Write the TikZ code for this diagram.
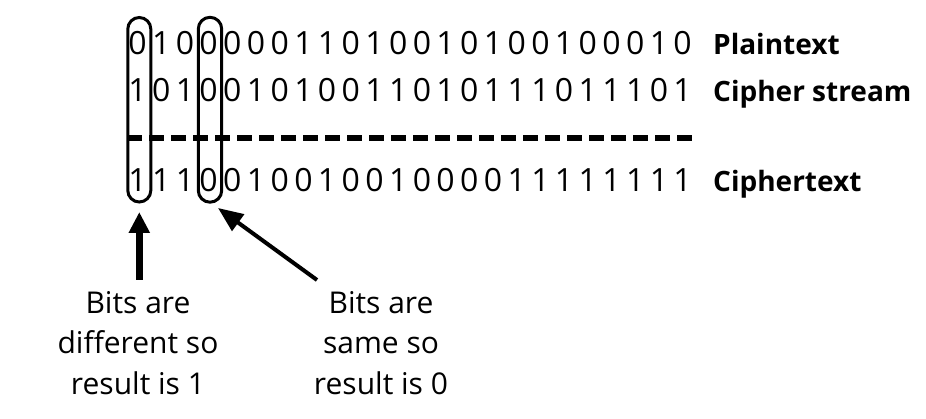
\documentclass[tikz,border=0pt]{standalone}
\usepackage{fontspec}
\setmainfont{Open Sans}
\usetikzlibrary{arrows.meta}
\tikzset{
  bit/.style={anchor=base, inner sep=0pt, font=\fontsize{32}{38}\selectfont},
  lbl/.style={anchor=base west, inner sep=0pt, font=\fontsize{28}{34}\selectfont\bfseries},
  loopline/.style={draw, line width=3pt},
  note/.style={align=center, inner sep=0pt, font=\fontsize{30}{40.5}\selectfont},
  sepline/.style={line width=6pt, dash pattern=on 15pt off 7pt},
  bigarrow/.style={line width=6.5pt, -{Triangle[length=21pt,width=20pt]}},
  thinarrow/.style={line width=4pt, -{Triangle[length=25pt,width=20pt]}},
}
\begin{document}
\begin{tikzpicture}[x=1pt,y=-1pt]
\useasboundingbox (0,0) rectangle (926,419);
% bit rows
\foreach \d [count=\i] in {0,1,0,0,0,0,0,1,1,0,1,0,0,1,0,1,0,0,1,0,0,0,1,0}
  \node[bit] (p\i) at ({137.5+(\i-1)*23.7},55) {\d};
\foreach \d [count=\i] in {1,0,1,0,0,1,0,1,0,0,1,1,0,1,0,1,1,1,0,1,1,1,0,1}
  \node[bit] (s\i) at ({137.5+(\i-1)*23.7},102) {\d};
\foreach \d [count=\i] in {1,1,1,0,0,1,0,0,1,0,0,1,0,0,0,0,1,1,1,1,1,1,1,1}
  \node[bit] (c\i) at ({137.5+(\i-1)*23.7},192) {\d};
% row labels
\node[lbl] (lp) at (713,55) {Plaintext};
\node[lbl] (ls) at (713,102) {Cipher stream};
\node[lbl] (lc) at (713,192) {Ciphertext};
% dashed separator
\coordinate (d1) at (127,138);
\coordinate (d2) at (697,138);
\draw[sepline] (d1) -- (d2);
% loops around the compared columns
\draw[loopline] (127.8,29) -- (127.8,190.5) arc[start angle=180, end angle=0, radius=11.5]
  -- (150.8,29) arc[start angle=0, end angle=-180, radius=11.5] -- cycle;
\draw[loopline] (198.3,29) -- (198.3,190.5) arc[start angle=180, end angle=0, radius=11.7]
  -- (221.7,29) arc[start angle=0, end angle=-180, radius=11.7] -- cycle;
\coordinate (loopAbot) at (139.3,212);
\coordinate (loopBbot) at (218,208);
% notes
\node[note] (nA) at (138,343) {Bits are\\different so\\result is 1};
\node[note] (nB) at (381,343) {Bits are\\same so\\result is 0};
% arrows
\coordinate (tA) at (139.3,280);
\draw[bigarrow] (tA) -- (loopAbot);
\coordinate (tB) at (317,280);
\draw[thinarrow] (tB) -- (loopBbot);
\end{tikzpicture}
\end{document}
